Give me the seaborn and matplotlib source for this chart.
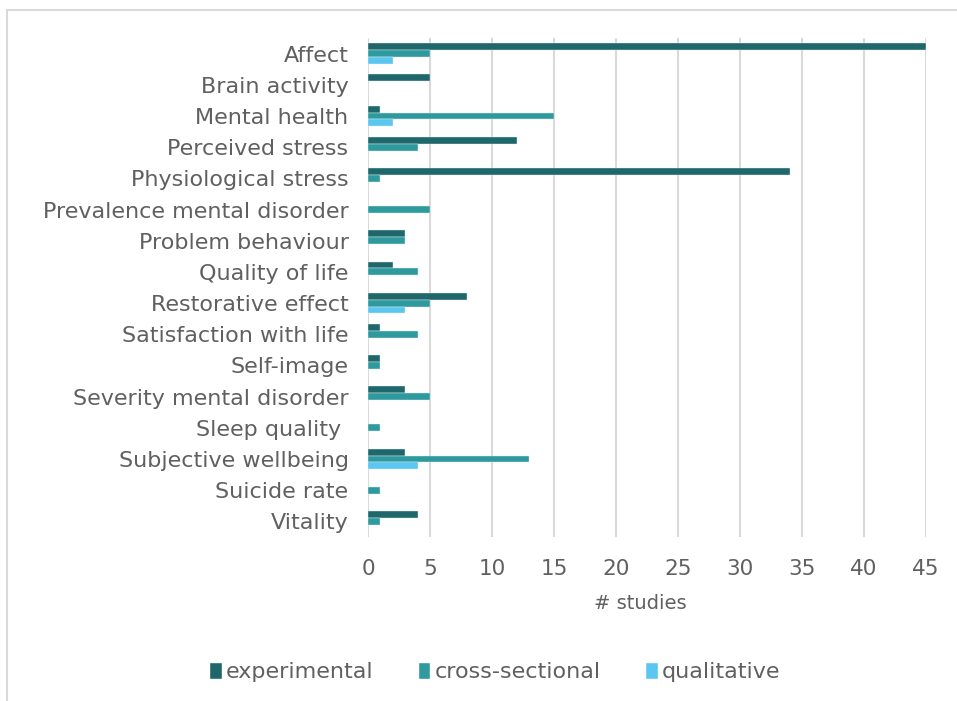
import matplotlib
matplotlib.use("Agg")
import matplotlib.pyplot as plt
import seaborn as sns
import pandas as pd
from matplotlib.patches import Rectangle, Patch

categories = ["Affect", "Brain activity", "Mental health", "Perceived stress",
              "Physiological stress", "Prevalence mental disorder", "Problem behaviour",
              "Quality of life", "Restorative effect", "Satisfaction with life",
              "Self-image", "Severity mental disorder", "Sleep quality ",
              "Subjective wellbeing", "Suicide rate", "Vitality"]
experimental = [45, 5, 1, 12, 34, 0, 3, 2, 8, 1, 1, 3, 0, 3, 0, 4]
cross_sectional = [5, 0, 15, 4, 1, 5, 3, 4, 5, 4, 1, 5, 1, 13, 1, 1]
qualitative = [2, 0, 2, 0, 0, 0, 0, 0, 3, 0, 0, 0, 0, 4, 0, 0]
series_names = ["experimental", "cross-sectional", "qualitative"]
colors = ["#1F676B", "#2E9A9E", "#5BC7F0"]
xticks = [0, 5, 10, 15, 20, 25, 30, 35, 40, 45]

rows = []
for name, vals in zip(series_names, [experimental, cross_sectional, qualitative]):
    for c, v in zip(categories, vals):
        rows.append({"category": c, "type": name, "studies": v})
df = pd.DataFrame(rows)

sns.set_theme(style="white")
plt.rcParams['font.family'] = ['DejaVu Sans']
text_color = "#606060"

fig = plt.figure(figsize=(9.57, 7.01), dpi=100)
ax = fig.add_axes([368/957, 1-537/701, (926-368)/957, (537-38)/701])

sns.barplot(data=df, y="category", x="studies", hue="type", order=categories,
            hue_order=series_names, palette=colors, saturation=1, orient="h", width=0.66,
            edgecolor="#dff0f0", linewidth=0.3, ax=ax, legend=False, errorbar=None)

ax.set_xlim(0, 45)
ax.set_ylim(len(categories)-0.5, -0.5)
ax.set_xticks(xticks)
ax.set_xticklabels([str(t) for t in xticks], fontsize=15.5, color=text_color)
ax.tick_params(axis="y", labelsize=16, labelcolor=text_color, length=0, pad=14)
ax.tick_params(axis="x", length=0, pad=16)
ax.set_ylabel("")
ax.set_xlabel("# studies", fontsize=14, color=text_color)
ax.xaxis.set_label_coords((640-368)/(926-368), -0.115)
ax.xaxis.grid(True, color="#d9d9d9", linewidth=1.5)
ax.set_axisbelow(True)
for s in ax.spines.values():
    s.set_visible(False)

handles = [Patch(facecolor=c, edgecolor="white", label=n) for c, n in zip(colors, series_names)]
leg = fig.legend(handles=handles, loc="center", bbox_to_anchor=(495/957, 1-672/701),
                 ncol=3, frameon=False, fontsize=16, handlelength=0.55, handleheight=0.8,
                 handletextpad=0.2, columnspacing=2.0)
for t in leg.get_texts():
    t.set_color(text_color)

fig.patches.append(Rectangle((7/957, -0.1), 1.2, 1-10/701+0.1, transform=fig.transFigure,
                             fill=False, edgecolor="#d9d9d9", linewidth=1.5))

fig.savefig("out.png", dpi=100)
